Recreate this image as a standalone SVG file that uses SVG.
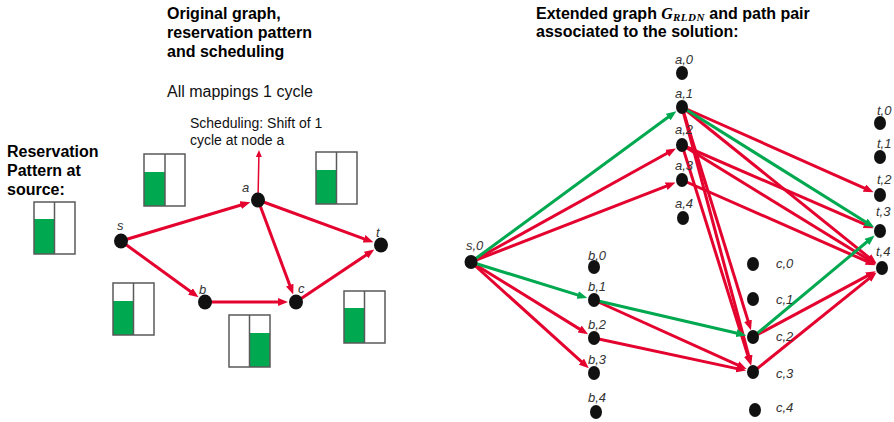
<svg xmlns="http://www.w3.org/2000/svg" width="894" height="422" viewBox="0 0 894 422">
<defs>
<style>
.ttl{font-family:"Liberation Sans",Arial,sans-serif;font-weight:bold;font-size:16px;fill:#000}
.reg{font-family:"Liberation Sans",Arial,sans-serif;font-size:16px;fill:#111}
.sm{font-family:"Liberation Sans",Arial,sans-serif;font-size:14px;fill:#111}
.lbl{font-family:"Liberation Sans",Arial,sans-serif;font-style:italic;font-size:13px;fill:#333}
.nd{fill:#111}
.r{stroke:#E4032E;stroke-width:3;fill:none;marker-end:url(#ar)}
.g{stroke:#00A84F;stroke-width:3;fill:none;marker-end:url(#ag)}
.thin{stroke:#E4032E;stroke-width:1.5;fill:none;marker-end:url(#as)}
.box{fill:none;stroke:#5a5a5a;stroke-width:1.5}
.fill{fill:#00A84F}
</style>
<marker id="ar" markerUnits="userSpaceOnUse" markerWidth="10" markerHeight="8" refX="3" refY="4" orient="auto"><path d="M0,0 L10,4 L0,8 z" fill="#E4032E"/></marker>
<marker id="ag" markerUnits="userSpaceOnUse" markerWidth="10" markerHeight="8" refX="3" refY="4" orient="auto"><path d="M0,0 L10,4 L0,8 z" fill="#00A84F"/></marker>
<marker id="as" markerUnits="userSpaceOnUse" markerWidth="7" markerHeight="6" refX="2" refY="3" orient="auto"><path d="M0,0 L7,3 L0,6 z" fill="#E4032E"/></marker>
</defs>
<rect width="894" height="422" fill="#fff"/>

<!-- titles -->
<text class="ttl" x="167" y="19">Original graph,</text>
<text class="ttl" x="167" y="38">reservation pattern</text>
<text class="ttl" x="167" y="57">and scheduling</text>
<text class="reg" x="167" y="97">All mappings 1 cycle</text>
<text class="sm" x="190" y="128">Scheduling: Shift of 1</text>
<text class="sm" x="190" y="145">cycle at node a</text>
<text class="ttl" x="7" y="157">Reservation</text>
<text class="ttl" x="7" y="176">Pattern at</text>
<text class="ttl" x="7" y="195">source:</text>
<text class="ttl" x="536" y="19">Extended graph <tspan font-family="'Liberation Serif','Times New Roman',serif" font-style="italic" font-size="16">G</tspan><tspan font-family="'Liberation Serif','Times New Roman',serif" font-style="italic" font-size="11" letter-spacing="0.5" dy="2">RLDN</tspan><tspan dy="-2"> and path pair</tspan></text>
<text class="ttl" x="536" y="37">associated to the solution:</text>

<!-- reservation pattern boxes -->
<g id="rp-source"><rect class="fill" x="34" y="219" width="20.5" height="35"/><rect class="box" x="34" y="202" width="41" height="52"/><line class="box" x1="54.5" y1="202" x2="54.5" y2="254"/></g>
<g id="rp-sa"><rect class="fill" x="144" y="172" width="21" height="34"/><rect class="box" x="144" y="154" width="41" height="52"/><line class="box" x1="165" y1="154" x2="165" y2="206"/></g>
<g id="rp-at"><rect class="fill" x="316" y="170" width="20.5" height="34"/><rect class="box" x="316" y="152" width="41" height="52"/><line class="box" x1="336.5" y1="152" x2="336.5" y2="204"/></g>
<g id="rp-sb"><rect class="fill" x="113" y="301" width="20.5" height="34"/><rect class="box" x="113" y="283" width="41" height="52"/><line class="box" x1="133.5" y1="283" x2="133.5" y2="335"/></g>
<g id="rp-bc"><rect class="fill" x="249.5" y="333" width="20.5" height="34"/><rect class="box" x="229" y="315" width="41" height="52"/><line class="box" x1="249.5" y1="315" x2="249.5" y2="367"/></g>
<g id="rp-ct"><rect class="fill" x="344" y="308" width="20.5" height="35"/><rect class="box" x="344" y="291" width="41" height="52"/><line class="box" x1="364.5" y1="291" x2="364.5" y2="343"/></g>

<!-- connectors -->
<g id="connectors">
<line class="r" x1="121" y1="241" x2="243.6" y2="204.3"/>
<line class="r" x1="121" y1="241" x2="192.9" y2="293.2"/>
<line class="r" x1="258" y1="200" x2="366.9" y2="239.8"/>
<line class="r" x1="258" y1="200" x2="290.8" y2="287.9"/>
<line class="r" x1="205" y1="302" x2="281" y2="302"/>
<line class="r" x1="296" y1="302" x2="368.5" y2="253.4"/>
<line class="thin" x1="258" y1="200" x2="258.9" y2="155"/>

<line class="r" x1="471" y1="262" x2="669.8" y2="151.8"/>
<line class="r" x1="471" y1="262" x2="669.0" y2="185.1"/>
<line class="r" x1="471" y1="262" x2="582.1" y2="330.6"/>
<line class="r" x1="471" y1="262" x2="583.6" y2="363.6"/>
<line class="r" x1="682" y1="107" x2="867.2" y2="189.3"/>
<line class="r" x1="682" y1="107" x2="871.1" y2="259.2"/>
<line class="r" x1="682" y1="145" x2="867.2" y2="225.4"/>
<line class="r" x1="682" y1="145" x2="870.1" y2="260.7"/>
<line class="r" x1="682" y1="180" x2="869.2" y2="262.4"/>
<line class="r" x1="682" y1="107" x2="748.9" y2="323.6"/>
<line class="r" x1="682" y1="107" x2="749.4" y2="358.5"/>
<line class="r" x1="682" y1="145" x2="748.8" y2="358.6"/>
<line class="r" x1="594" y1="300" x2="740.2" y2="366.2"/>
<line class="r" x1="594" y1="338" x2="739.3" y2="369.1"/>
<line class="r" x1="753" y1="337" x2="869.6" y2="274.6"/>
<line class="r" x1="753" y1="372" x2="871.1" y2="276.8"/>
<line class="g" x1="471" y1="262" x2="670.7" y2="115.3"/>
<line class="g" x1="682" y1="107" x2="868.1" y2="223.6"/>
<line class="g" x1="471" y1="262" x2="580.6" y2="295.9"/>
<line class="g" x1="594" y1="300" x2="739.4" y2="333.8"/>
<line class="g" x1="753" y1="337" x2="869.2" y2="240.0"/>
</g>

<!-- original graph nodes -->
<g id="n-s"><ellipse class="nd" cx="121" cy="241" rx="7" ry="7.5"/><text class="lbl" x="117" y="230">s</text></g>
<g id="n-a"><ellipse class="nd" cx="258" cy="200" rx="7" ry="7.5"/><text class="lbl" x="242" y="192">a</text></g>
<g id="n-b"><ellipse class="nd" cx="205" cy="302" rx="7" ry="7.5"/><text class="lbl" x="199" y="294">b</text></g>
<g id="n-c"><ellipse class="nd" cx="296" cy="302" rx="7" ry="7.5"/><text class="lbl" x="298" y="293">c</text></g>
<g id="n-t"><ellipse class="nd" cx="381" cy="245" rx="7" ry="7.5"/><text class="lbl" x="376" y="237">t</text></g>

<!-- extended graph nodes -->
<g id="x-s0"><ellipse class="nd" cx="471" cy="262" rx="6.5" ry="7"/><text class="lbl" x="466" y="250">s,0</text></g>
<g id="x-a0"><ellipse class="nd" cx="682" cy="73" rx="6" ry="7"/><text class="lbl" x="675" y="64">a,0</text></g>
<g id="x-a1"><ellipse class="nd" cx="682" cy="107" rx="6" ry="7"/><text class="lbl" x="675" y="98">a,1</text></g>
<g id="x-a2"><ellipse class="nd" cx="682" cy="145" rx="6" ry="7"/><text class="lbl" x="675" y="134">a,2</text></g>
<g id="x-a3"><ellipse class="nd" cx="682" cy="180" rx="6" ry="7"/><text class="lbl" x="675" y="170">a,3</text></g>
<g id="x-a4"><ellipse class="nd" cx="683" cy="218" rx="6" ry="7"/><text class="lbl" x="675" y="208">a,4</text></g>
<g id="x-b0"><ellipse class="nd" cx="594" cy="267" rx="6" ry="7"/><text class="lbl" x="588" y="260">b,0</text></g>
<g id="x-b1"><ellipse class="nd" cx="594" cy="300" rx="6" ry="7"/><text class="lbl" x="588" y="291">b,1</text></g>
<g id="x-b2"><ellipse class="nd" cx="594" cy="338" rx="6" ry="7"/><text class="lbl" x="588" y="329">b,2</text></g>
<g id="x-b3"><ellipse class="nd" cx="594" cy="373" rx="6" ry="7"/><text class="lbl" x="588" y="364">b,3</text></g>
<g id="x-b4"><ellipse class="nd" cx="596" cy="412" rx="6" ry="7"/><text class="lbl" x="588" y="402">b,4</text></g>
<g id="x-c0"><ellipse class="nd" cx="753" cy="264" rx="6" ry="7"/><text class="lbl" x="776" y="268">c,0</text></g>
<g id="x-c1"><ellipse class="nd" cx="753" cy="299" rx="6" ry="7"/><text class="lbl" x="776" y="304">c,1</text></g>
<g id="x-c2"><ellipse class="nd" cx="753" cy="337" rx="6" ry="7"/><text class="lbl" x="776" y="341">c,2</text></g>
<g id="x-c3"><ellipse class="nd" cx="753" cy="372" rx="6" ry="7"/><text class="lbl" x="776" y="378">c,3</text></g>
<g id="x-c4"><ellipse class="nd" cx="755" cy="410" rx="6" ry="7"/><text class="lbl" x="776" y="412">c,4</text></g>
<g id="x-t0"><ellipse class="nd" cx="880" cy="123" rx="6" ry="7"/><text class="lbl" x="877" y="115">t,0</text></g>
<g id="x-t1"><ellipse class="nd" cx="880" cy="157" rx="6" ry="7"/><text class="lbl" x="877" y="148">t,1</text></g>
<g id="x-t2"><ellipse class="nd" cx="880" cy="195" rx="6" ry="7"/><text class="lbl" x="877" y="184">t,2</text></g>
<g id="x-t3"><ellipse class="nd" cx="880" cy="231" rx="6" ry="7"/><text class="lbl" x="876" y="216">t,3</text></g>
<g id="x-t4"><ellipse class="nd" cx="882" cy="268" rx="6" ry="7"/><text class="lbl" x="876" y="256">t,4</text></g>
</svg>
